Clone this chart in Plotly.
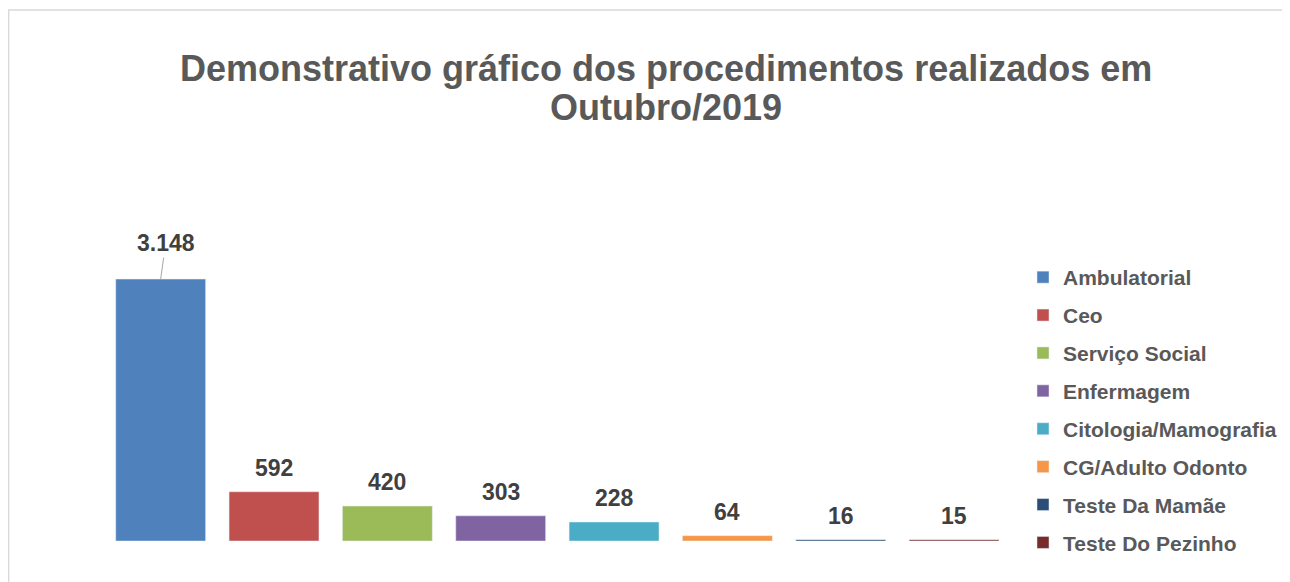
import plotly.graph_objects as go

categories = ["Ambulatorial", "Ceo", "Serviço Social", "Enfermagem",
              "Citologia/Mamografia", "CG/Adulto Odonto", "Teste Da Mamãe", "Teste Do Pezinho"]
values = [3148, 592, 420, 303, 228, 64, 16, 15]
colors = ["#4F81BD", "#C0504D", "#9BBB59", "#8064A2",
          "#4BACC6", "#F79646", "#2C4D75", "#772C2A"]
title_lines = ["Demonstrativo gráfico dos procedimentos realizados em", "Outubro/2019"]

W, H = 1290, 582
L, T = 96.25, 180
pw = 908
R = W - L - pw
B = 49
ph = H - T - B
FONT = "Liberation Sans, Arial, sans-serif"


def fmt(v):
    return f"{v:,}".replace(",", ".")


def px_x(p):
    return (p - L) / pw


def px_y(p):
    return (H - B - p) / ph


fig = go.Figure()
for i, (c, v, col) in enumerate(zip(categories, values, colors)):
    fig.add_trace(go.Bar(x=[i], y=[v], name=c, marker_color=col, width=0.793,
                         legendgroup=c, hoverinfo="name+y"))

annotations = []
for i, v in enumerate(values):
    if i == 0:
        annotations.append(dict(x=i, y=v, xref="x", yref="y", text="<b>" + fmt(v) + "</b>",
                                showarrow=True, arrowhead=0, arrowwidth=1,
                                arrowcolor="#a6a6a6", ax=5, ay=-36, standoff=0,
                                font=dict(size=23, color="#404040", family=FONT)))
    else:
        annotations.append(dict(x=i, y=v, xref="x", yref="y", text="<b>" + fmt(v) + "</b>",
                                showarrow=False, yanchor="bottom", yshift=9,
                                font=dict(size=23, color="#404040", family=FONT)))

title_y = [60.5, 99]
for line, ty in zip(title_lines, title_y):
    annotations.append(dict(x=px_x(659), y=px_y(ty), xref="paper", yref="paper",
                            text="<b>" + line + "</b>", showarrow=False,
                            xanchor="center", yanchor="middle",
                            font=dict(size=36, color="#595959", family=FONT)))

border = dict(color="#d9d9d9", width=1.5)
fig.update_layout(
    width=W, height=H,
    margin=dict(l=L, r=R, t=T, b=B, pad=0),
    paper_bgcolor="white", plot_bgcolor="white",
    barmode="overlay",
    xaxis=dict(range=[-0.5, 7.5], showticklabels=False, showgrid=False,
               zeroline=False, showline=False, ticks=""),
    yaxis=dict(range=[0, ph / 0.0832], showticklabels=False, showgrid=False,
               zeroline=False, showline=False, ticks=""),
    legend=dict(xref="container", yref="container",
                x=1015 / W, y=1 - 249 / H, xanchor="left", yanchor="top",
                traceorder="grouped", tracegroupgap=7.6, maxheight=420,
                font=dict(size=21, color="#595959", family=FONT, weight="bold"),
                itemwidth=30, bgcolor="rgba(0,0,0,0)"),
    annotations=annotations,
    shapes=[
        dict(type="line", xref="paper", yref="paper",
             x0=px_x(0), x1=px_x(W), y0=px_y(2), y1=px_y(2), line=border, layer="below"),
        dict(type="line", xref="paper", yref="paper",
             x0=px_x(0.75), x1=px_x(0.75), y0=px_y(2), y1=px_y(H), line=border, layer="below"),
    ],
    showlegend=True,
)

fig.write_html("out.html")
